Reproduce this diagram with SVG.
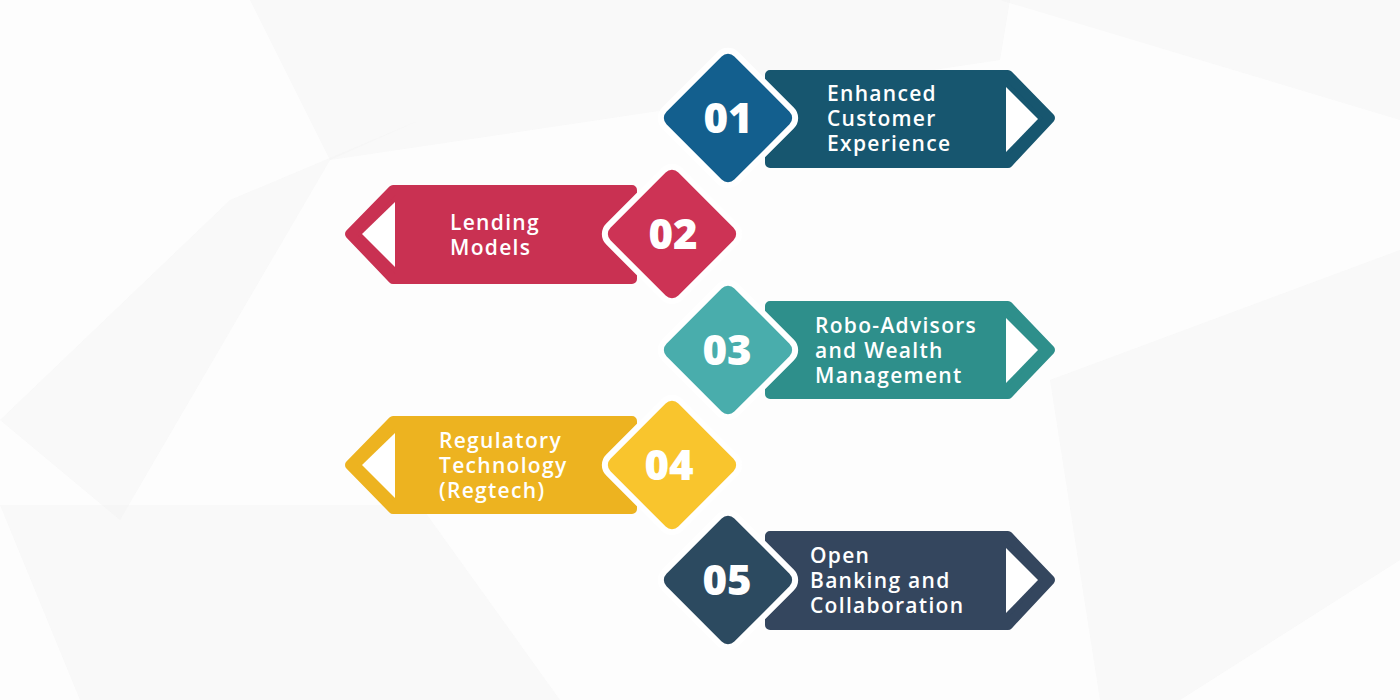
<svg xmlns="http://www.w3.org/2000/svg" width="1400" height="700" viewBox="0 0 1400 700">
<style>
.bn{stroke-width:10;stroke-linejoin:round}
.dm{stroke:#ffffff;stroke-width:12;paint-order:stroke}
.num{font-family:"Open Sans","Liberation Sans",sans-serif;font-weight:800;font-size:42px;fill:#ffffff;text-anchor:middle}
.lbl{font-family:"Open Sans","Liberation Sans",sans-serif;font-weight:600;font-size:21px;fill:#ffffff;letter-spacing:1.3px}
.tri{fill:#ffffff}
.bg{fill:#f2f2f2;opacity:0.35}
</style>
<rect x="0" y="0" width="1400" height="700" fill="#fdfdfd"/>
<g id="background">
<polygon class="bg" points="250,0 1010,0 1000,60 330,160"/>
<polygon class="bg" points="0,420 230,200 420,120 330,160 120,520"/>
<polygon class="bg" points="0,505 420,505 560,700 80,700"/>
<polygon class="bg" points="1050,380 1400,250 1400,560 1180,700 1100,700"/>
<polygon class="bg" points="1000,0 1400,0 1400,120"/>
</g>
<g id="node-01">
<path class="bn" fill="#17566f" stroke="#17566f" d="M770,75 H1008 L1050,118 L1008,163 H770 Z"/>
<polygon class="tri" points="1006,87 1006,152 1038,119"/>
<rect class="dm" fill="#135f8e" x="680" y="70" width="96" height="96" rx="9" transform="rotate(45 728 118)"/>
<text class="num" x="728" y="133">01</text>
<text class="lbl" x="827" y="101">Enhanced</text>
<text class="lbl" x="827" y="126">Customer</text>
<text class="lbl" x="827" y="151">Experience</text>
</g>
<g id="node-02">
<path class="bn" fill="#c93152" stroke="#c93152" d="M632,190 H393 L350,234 L393,279 H632 Z"/>
<polygon class="tri" points="395,202 395,267 362,234"/>
<rect class="dm" fill="#cd3355" x="624" y="186" width="96" height="96" rx="9" transform="rotate(45 672 234)"/>
<text class="num" x="673" y="249">02</text>
<text class="lbl" x="450" y="230">Lending</text>
<text class="lbl" x="450" y="255">Models</text>
</g>
<g id="node-03">
<path class="bn" fill="#2e8f8b" stroke="#2e8f8b" d="M770,306 H1008 L1050,350 L1008,394 H770 Z"/>
<polygon class="tri" points="1006,318 1006,383 1038,350"/>
<rect class="dm" fill="#49adac" x="680" y="302" width="96" height="96" rx="9" transform="rotate(45 728 350)"/>
<text class="num" x="727" y="365">03</text>
<text class="lbl" x="815" y="333">Robo-Advisors</text>
<text class="lbl" x="815" y="358">and Wealth</text>
<text class="lbl" x="815" y="383">Management</text>
</g>
<g id="node-04">
<path class="bn" fill="#edb320" stroke="#edb320" d="M632,421 H393 L350,465 L393,509 H632 Z"/>
<polygon class="tri" points="395,433 395,498 362,465"/>
<rect class="dm" fill="#f9c52d" x="624" y="417" width="96" height="96" rx="9" transform="rotate(45 672 465)"/>
<text class="num" x="669" y="480">04</text>
<text class="lbl" x="439" y="448">Regulatory</text>
<text class="lbl" x="439" y="473">Technology</text>
<text class="lbl" x="439" y="498">(Regtech)</text>
</g>
<g id="node-05">
<path class="bn" fill="#34465e" stroke="#34465e" d="M770,536 H1008 L1050,580 L1008,625 H770 Z"/>
<polygon class="tri" points="1006,548 1006,613 1038,580"/>
<rect class="dm" fill="#2c4a60" x="680" y="532" width="96" height="96" rx="9" transform="rotate(45 728 580)"/>
<text class="num" x="727" y="595">05</text>
<text class="lbl" x="810" y="563">Open</text>
<text class="lbl" x="810" y="588">Banking and</text>
<text class="lbl" x="810" y="613">Collaboration</text>
</g>
<g id="connectors"></g>
</svg>
